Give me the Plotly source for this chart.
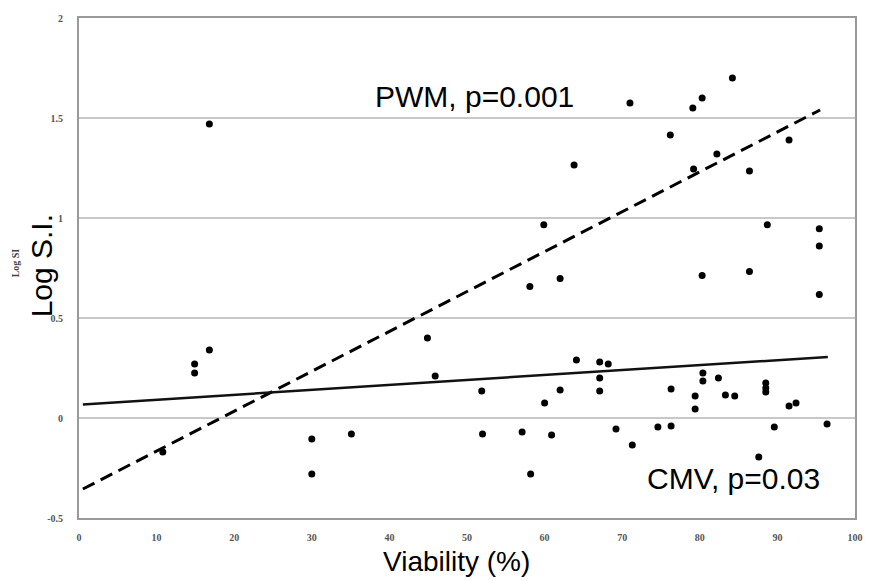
import plotly.graph_objects as go

# Scatter points (Viability %, Log S.I.)
viability = [10.8, 14.9, 14.9, 16.8, 16.8, 30.0, 30.0, 35.1, 44.9, 45.9,
             51.9, 52.0, 57.1, 58.2, 60.0, 60.9, 62.0, 64.1, 67.1, 68.2,
             67.1, 67.1, 69.2, 71.3, 74.6, 76.3, 76.3, 79.4, 79.4, 80.4,
             80.4, 82.4, 83.3, 84.5, 87.6, 88.5, 88.5, 88.5, 89.6, 91.5,
             92.4, 96.4, 71.0, 79.1, 80.3, 84.2, 76.2, 91.5, 63.8, 82.2,
             79.2, 86.4, 59.9, 88.7, 95.4, 95.4, 58.1, 62.0, 80.3, 86.4,
             95.4]
log_si = [-0.17, 0.27, 0.225, 0.34, 1.47, -0.105, -0.28, -0.08, 0.40, 0.21,
          0.135, -0.08, -0.07, -0.28, 0.075, -0.085, 0.14, 0.29, 0.28, 0.27,
          0.20, 0.135, -0.055, -0.135, -0.045, -0.04, 0.145, 0.11, 0.045, 0.225,
          0.185, 0.20, 0.115, 0.11, -0.195, 0.175, 0.15, 0.13, -0.045, 0.06,
          0.075, -0.03, 1.575, 1.55, 1.60, 1.70, 1.415, 1.39, 1.265, 1.32,
          1.245, 1.235, 0.966, 0.966, 0.946, 0.86, 0.657, 0.697, 0.712, 0.732,
          0.617]

# Regression lines (endpoints)
pwm_fit_x = [0.5, 95.5]
pwm_fit_y = [-0.355, 1.54]
cmv_fit_x = [0.5, 96.5]
cmv_fit_y = [0.068, 0.305]

x_ticks = [0, 10, 20, 30, 40, 50, 60, 70, 80, 90, 100]
y_ticks = [-0.5, 0, 0.5, 1, 1.5, 2]
y_tick_labels = ["-0.5", "0", "0.5", "1", "1.5", "2"]

fig = go.Figure()
fig.add_trace(go.Scatter(x=pwm_fit_x, y=pwm_fit_y, mode="lines",
                         line=dict(color="black", width=3, dash="13px,7px"),
                         showlegend=False))
fig.add_trace(go.Scatter(x=cmv_fit_x, y=cmv_fit_y, mode="lines",
                         line=dict(color="#111", width=2.5),
                         showlegend=False))
fig.add_trace(go.Scatter(x=viability, y=log_si, mode="markers",
                         marker=dict(color="black", size=7),
                         showlegend=False))

tick_font = dict(family="Liberation Serif", size=10, color="#555", weight="bold")
big_font = dict(family="Liberation Sans", size=30, color="black")

fig.update_layout(
    width=875, height=581,
    margin=dict(l=79, r=12, t=16, b=63),
    paper_bgcolor="white", plot_bgcolor="white",
    xaxis=dict(range=[0, 100], tickvals=x_ticks, showgrid=False, zeroline=False,
               showline=True, mirror=True, linecolor="#9a9a9a", linewidth=2,
               tickfont=tick_font, ticks="", ticklabelstandoff=9),
    yaxis=dict(range=[-0.5, 2], tickvals=y_ticks, ticktext=y_tick_labels,
               showgrid=True, gridcolor="#c8c8c8", gridwidth=1.5, zeroline=False,
               showline=True, mirror=True, linecolor="#9a9a9a", linewidth=2,
               tickfont=tick_font, ticks="", ticklabelstandoff=12),
    annotations=[
        dict(text="PWM, p=0.001", x=51, y=1.61, xref="x", yref="y",
             xanchor="center", yanchor="middle",
             showarrow=False, font=big_font),
        dict(text="CMV, p=0.03", x=84.4, y=-0.30, xref="x", yref="y",
             xanchor="center", yanchor="middle",
             showarrow=False, font=big_font),
        dict(text="Viability (%)", x=0.486, y=-0.087, xref="paper", yref="paper",
             xanchor="center", yanchor="middle",
             showarrow=False, font=dict(family="Liberation Sans", size=28, color="black")),
        dict(text="Log SI", x=-0.082, y=0.51, xref="paper", yref="paper",
             xanchor="center", yanchor="middle",
             textangle=-90, showarrow=False,
             font=dict(family="Liberation Serif", size=10, color="#444", weight="bold")),
        dict(text="Log S.I.", x=-0.0485, y=0.504, xref="paper", yref="paper",
             xanchor="center", yanchor="middle",
             textangle=-90, showarrow=False,
             font=big_font),
    ],
)

fig.write_html("out.html")
